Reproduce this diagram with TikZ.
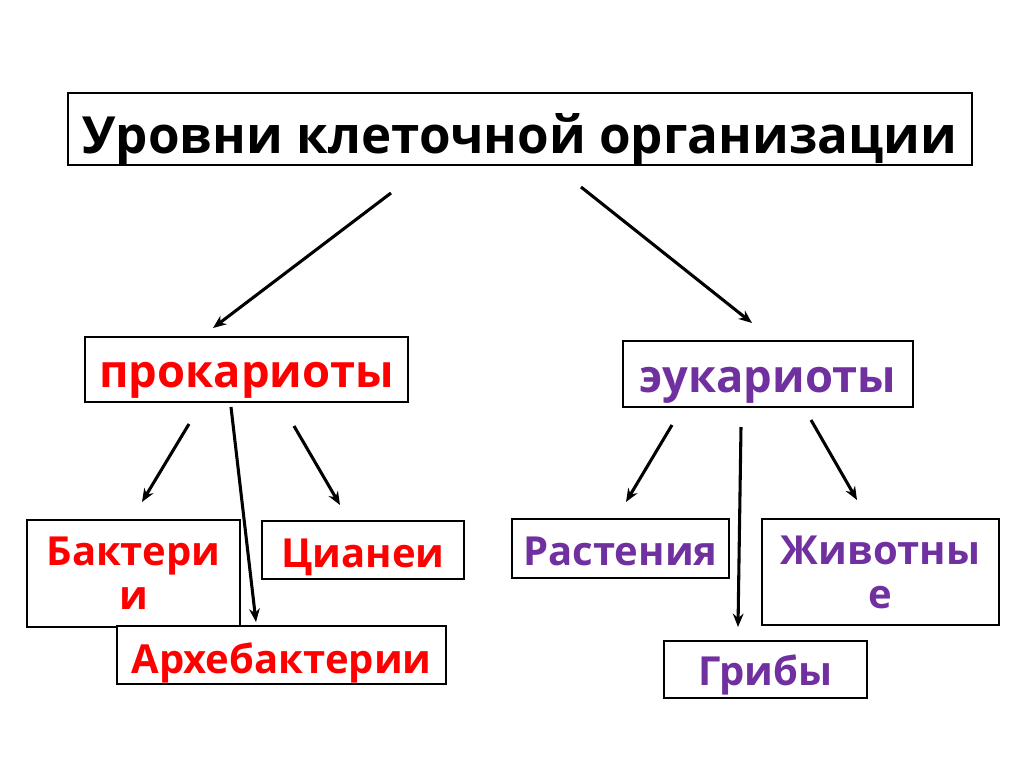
\documentclass[tikz,border=0pt]{standalone}
\usepackage{fontspec}
\setmainfont{Open Sans}
\usetikzlibrary{arrows.meta}
\definecolor{myred}{RGB}{255,0,0}
\definecolor{mypurple}{RGB}{112,48,160}
\begin{document}
\begin{tikzpicture}[x=0.75pt,y=-0.75pt,
  box/.style={draw=black,line width=2.2pt,fill=white,rectangle,inner sep=0pt,align=center,font=\bfseries},
  redtxt/.style={text=myred},
  purtxt/.style={text=mypurple},
  big/.style={font=\bfseries\fontsize{34}{40}\selectfont},
  mid/.style={font=\bfseries\fontsize{30}{33}\selectfont},
  arr/.style={line width=2.3pt,-{Stealth[length=10pt,width=8pt]}}]
\useasboundingbox[fill=white] (0,0) rectangle (1024,768);
% title
\node[box,minimum width=678pt,minimum height=54pt,text height=36pt,text depth=0pt] (title) at (520,129)
  {\resizebox{656pt}{30pt}{Уровни клеточной организации}};
% level 2
\node[box,redtxt,big,minimum width=242.25pt,minimum height=48.75pt,text height=26.25pt,text depth=0pt] (prok) at (246.5,369.5) {прокариоты};
\node[box,purtxt,big,minimum width=217.5pt,minimum height=49.5pt,text height=27pt,text depth=0pt] (euk) at (768,374) {эукариоты};
% level 3 left
\node[box,redtxt,mid,minimum width=159.75pt,minimum height=80.25pt] (bact) at (133.5,573.5) {Бактери\\и};
\node[box,redtxt,mid,minimum width=151.5pt,minimum height=43.5pt,text height=25.5pt,text depth=0pt] (cyan) at (363,550) {Цианеи};
\node[box,redtxt,mid,minimum width=246.75pt,minimum height=43.5pt,text height=27pt,text depth=0pt] (arch) at (281.5,655) {Архебактерии};
% level 3 right
\node[box,purtxt,mid,minimum width=162.75pt,minimum height=44.25pt,text height=24.75pt,text depth=0pt] (rast) at (620.5,548.5) {Растения};
\node[box,purtxt,mid,minimum width=177.75pt,minimum height=79.5pt] (zhiv) at (880.5,572) {Животны\\е};
\node[box,purtxt,mid,minimum width=152.25pt,minimum height=42.75pt,text height=23.25pt,text depth=0pt] (grib) at (765.5,669.5) {Грибы};
% arrow endpoints
\coordinate (a1s) at (391,193); \coordinate (a1e) at (213,328);
\coordinate (a2s) at (581,187); \coordinate (a2e) at (752,323);
\coordinate (a3s) at (189,424); \coordinate (a3e) at (142,502);
\coordinate (a4s) at (231,407); \coordinate (a4e) at (256,622);
\coordinate (a5s) at (294,426); \coordinate (a5e) at (340,505);
\coordinate (a6s) at (672,425); \coordinate (a6e) at (626,502);
\coordinate (a7s) at (741,427); \coordinate (a7e) at (738,627);
\coordinate (a8s) at (811,420); \coordinate (a8e) at (857,500);
\draw[arr] (a1s) -- (a1e);
\draw[arr] (a2s) -- (a2e);
\draw[arr] (a3s) -- (a3e);
\draw[arr] (a4s) -- (a4e);
\draw[arr] (a5s) -- (a5e);
\draw[arr] (a6s) -- (a6e);
\draw[arr] (a7s) -- (a7e);
\draw[arr] (a8s) -- (a8e);
\end{tikzpicture}
\end{document}
